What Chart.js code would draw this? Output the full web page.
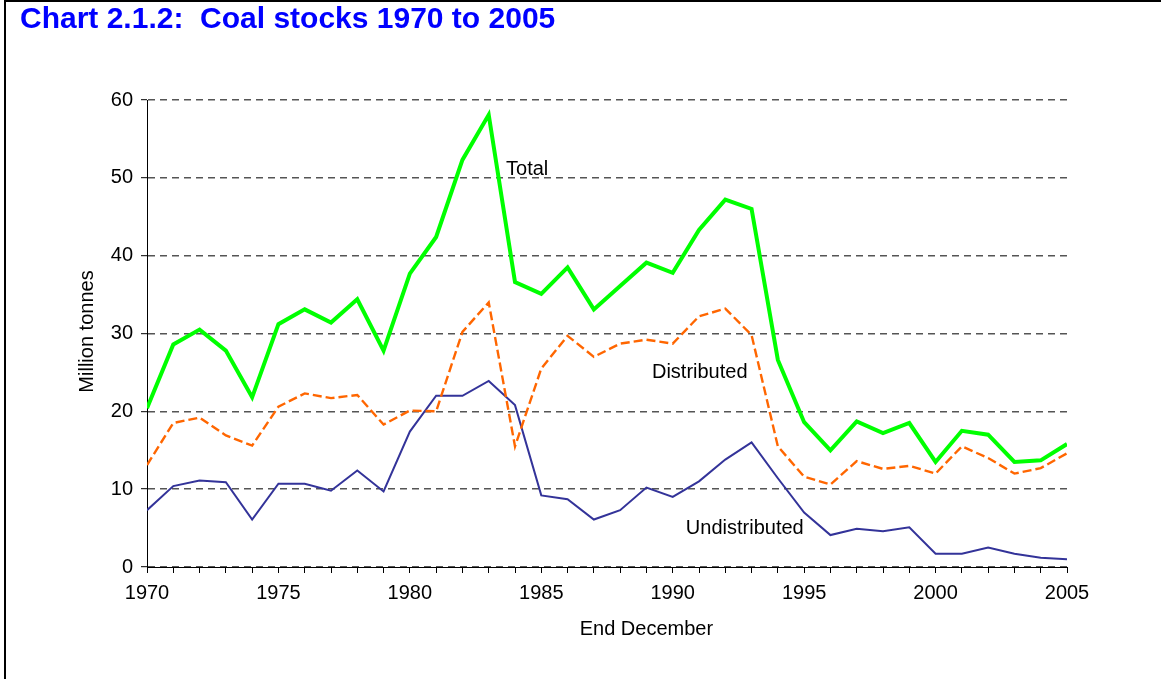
<!DOCTYPE html>
<html>
<head>
<meta charset="utf-8">
<script src="https://cdn.jsdelivr.net/npm/chart.js@4/dist/chart.umd.min.js"></script>
<style>
  html, body { margin: 0; padding: 0; background: #fff; overflow: hidden; }
  #wrap { position: relative; width: 1161px; height: 679px; }
  #frame { position: absolute; left: 4px; top: 0; width: 1200px; height: 720px;
           border-top: 2px solid #000; border-left: 2px solid #000; box-sizing: border-box; }
  canvas { position: absolute; left: 0; top: 0; }
</style>
</head>
<body>
<div id="wrap">
  <div id="frame"></div>
  <canvas id="c" width="1161" height="679"></canvas>
</div>
<script>
// ---- data ----
const years = [1970,1971,1972,1973,1974,1975,1976,1977,1978,1979,
               1980,1981,1982,1983,1984,1985,1986,1987,1988,1989,
               1990,1991,1992,1993,1994,1995,1996,1997,1998,1999,
               2000,2001,2002,2003,2004,2005];
const total = [20.4,28.6,30.5,27.8,21.8,31.2,33.1,31.4,34.4,27.8,
               37.7,42.4,52.3,58.1,36.6,35.1,38.5,33.1,36.1,39.1,
               37.8,43.3,47.2,46.0,26.6,18.6,15.0,18.7,17.2,18.5,
               13.5,17.5,17.0,13.5,13.7,15.8];
const distributed = [13.1,18.5,19.2,16.9,15.6,20.6,22.3,21.7,22.1,18.3,
                     20.1,20.0,30.2,34.0,15.5,25.5,29.7,27.0,28.7,29.2,
                     28.7,32.2,33.2,29.8,15.5,11.6,10.6,13.6,12.6,13.0,
                     12.0,15.5,14.0,12.0,12.7,14.6];
const undistributed = [7.3,10.4,11.1,10.9,6.1,10.7,10.7,9.8,12.4,9.7,
                       17.4,22.0,22.0,23.9,20.8,9.2,8.7,6.1,7.3,10.2,
                       9.0,11.0,13.8,16.0,11.4,7.0,4.1,4.9,4.6,5.1,
                       1.7,1.7,2.5,1.7,1.2,1.0];
const yTicks = [0,10,20,30,40,50,60];
const xLabelYears = [1970,1975,1980,1985,1990,1995,2000,2005];
const titleText = 'Chart 2.1.2:  Coal stocks 1970 to 2005';
const yTitle = 'Million tonnes';
const xTitle = 'End December';
const seriesLabels = [
  { text: 'Total', x: 1983.66, y: 51.1 },
  { text: 'Distributed', x: 1989.21, y: 25.05 },
  { text: 'Undistributed', x: 1990.5, y: 5.0 }
];

const FONT = '"Liberation Sans", Arial, sans-serif';
const toXY = arr => arr.map((v, i) => ({ x: years[i], y: v }));

const textPlugin = {
  id: 'texts',
  afterDraw(chart) {
    const ctx = chart.ctx;
    const xs = chart.scales.x, ys = chart.scales.y;
    const area = chart.chartArea;
    ctx.save();
    ctx.fillStyle = '#000';
    ctx.font = '20px ' + FONT;
    ctx.textBaseline = 'middle';
    ctx.textAlign = 'left';
    seriesLabels.forEach(l => {
      ctx.fillText(l.text, xs.getPixelForValue(l.x), ys.getPixelForValue(l.y));
    });
    // x axis title
    ctx.textAlign = 'center';
    ctx.fillText(xTitle, xs.getPixelForValue(1989.0), area.bottom + 62);
    // y axis title
    ctx.translate(area.left - 60, (area.top + area.bottom) / 2 - 2);
    ctx.rotate(-Math.PI / 2);
    ctx.fillText(yTitle, 0, 0);
    ctx.restore();
  }
};

new Chart(document.getElementById('c'), {
  type: 'line',
  data: {
    datasets: [
      { label: 'Total', data: toXY(total), borderColor: '#00FF00', borderWidth: 4,
        pointRadius: 0, tension: 0, fill: false },
      { label: 'Distributed', data: toXY(distributed), borderColor: '#FF6600', borderWidth: 2.4,
        borderDash: [9, 4], pointRadius: 0, tension: 0, fill: false },
      { label: 'Undistributed', data: toXY(undistributed), borderColor: '#333399', borderWidth: 2,
        pointRadius: 0, tension: 0, fill: false }
    ]
  },
  options: {
    responsive: false,
    animation: false,
    devicePixelRatio: 1,
    layout: { padding: { left: 20, right: 94, top: 0, bottom: 0 } },
    plugins: {
      legend: { display: false },
      tooltip: { enabled: false },
      title: {
        display: true, text: titleText, align: 'start', color: '#0000FF',
        font: { family: FONT, size: 30, weight: 'bold' },
        padding: { top: 2, bottom: 62 }
      }
    },
    scales: {
      x: {
        type: 'linear', min: 1970, max: 2005,
        afterFit(s) { s.height = 112; },
        afterBuildTicks(s) { s.ticks = years.map(v => ({ value: v })); },
        ticks: {
          autoSkip: false, maxRotation: 0, minRotation: 0, padding: 8,
          color: '#000', font: { family: FONT, size: 20 },
          callback: v => xLabelYears.includes(v) ? String(v) : ''
        },
        grid: { drawOnChartArea: false, drawTicks: true, tickLength: 6, tickColor: '#000', tickWidth: 1 },
        border: { display: true, color: '#000', width: 1 }
      },
      y: {
        min: 0, max: 60,
        afterFit(s) { s.width = 127; },
        afterBuildTicks(s) { s.ticks = yTicks.map(v => ({ value: v })); },
        ticks: { padding: 8, color: '#000', font: { family: FONT, size: 20 } },
        grid: { color: '#555555', lineWidth: 1.4, drawTicks: true, tickLength: 6,
                tickColor: '#000', tickWidth: 1 },
        border: { display: true, color: '#000', width: 1, dash: [7, 5] }
      }
    }
  },
  plugins: [textPlugin]
});
</script>
</body>
</html>
